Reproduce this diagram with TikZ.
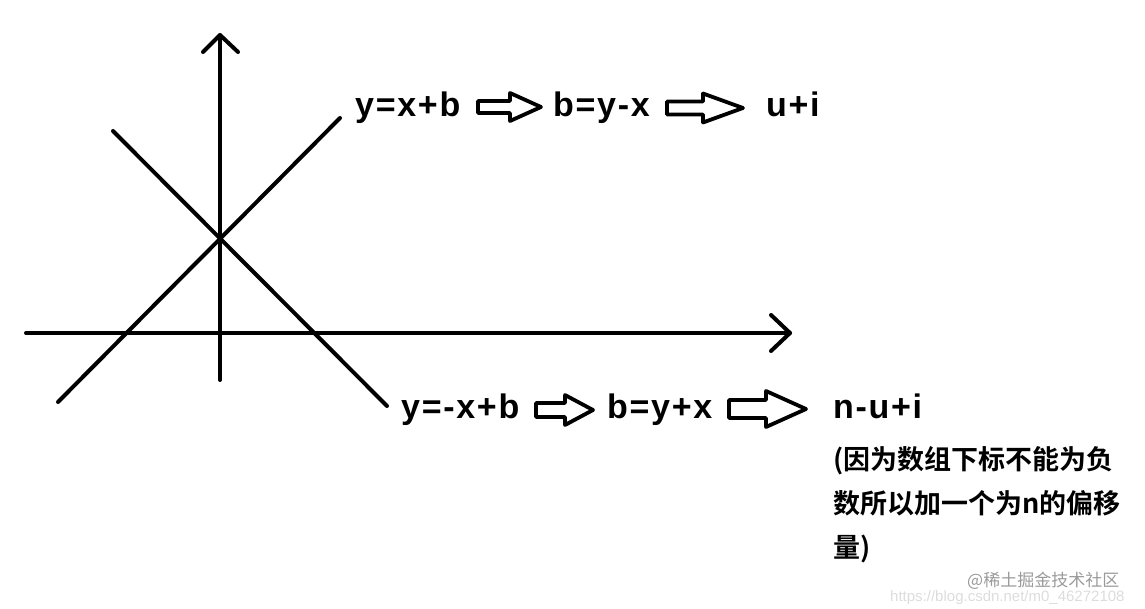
\documentclass[tikz,border=0pt]{standalone}
\usepackage{fontspec}
\usepackage{tikz}
\usepackage{xcolor}
\usetikzlibrary{arrows.meta, positioning}
\setmainfont{Liberation Sans}
\newfontfamily\cjk{Noto Sans CJK SC}[BoldFont={Noto Sans CJK SC Bold}]
\definecolor{MarkGray}{HTML}{9A9A9A}
\definecolor{UrlGray}{HTML}{DCDCDC}

% hollow block arrow: x1, x2, y, half shaft, half head, head length
\newcommand{\fatarrow}[6]{%
  \draw[blockarrow] (#1,#3-#4) -- (#2-#6,#3-#4) -- (#2-#6,#3-#5) -- (#2,#3)
    -- (#2-#6,#3+#5) -- (#2-#6,#3+#4) -- (#1,#3+#4) -- cycle;}

\begin{document}
\begin{tikzpicture}[x=1pt, y=-1pt,
    axis/.style={line width=4pt, line cap=round, line join=round},
    blockarrow/.style={line width=3.8pt, line join=round},
    formula/.style={anchor=base west, inner sep=0pt, font=\fontsize{34}{40}\selectfont\bfseries\addfontfeature{LetterSpace=5}},
    note/.style={anchor=north west, inner sep=0pt, align=left, font=\cjk\fontsize{27}{44}\selectfont\bfseries}]

        \useasboundingbox (0,0) rectangle (1145,609);

        % axes
        \coordinate (xl) at (26,333);
        \coordinate (xr) at (790,333);
        \coordinate (yb) at (220,380);
        \coordinate (yt) at (220,35);
        \draw[axis] (xl) -- (xr);
        \draw[axis] (yb) -- (yt);
        \draw[axis] (771,315) -- (xr) -- (771,351);
        \draw[axis] (203,52) -- (yt) -- (238,52);

        % the two lines
        \coordinate (pa) at (58,402);
        \coordinate (pb) at (340,118);
        \coordinate (qa) at (113,131);
        \coordinate (qb) at (387,406);
        \draw[axis] (pa) -- (pb);
        \draw[axis] (qa) -- (qb);

        % first row
        \node[formula] (eqA) at (355,117) {y=x+b};
        \node[formula] (solA) at (553,117) {b=y-x};
        \node[formula] (idxA) at (766,117) {u+i};
        \fatarrow{478}{541}{107}{6}{14}{31}
        \fatarrow{667}{743}{108}{6.5}{14.5}{40}

        % second row
        \node[formula] (eqB) at (401,418) {y=-x+b};
        \node[formula] (solB) at (607,418) {b=y+x};
        \node[formula] (idxB) at (833,418) {n-u+i};
        \fatarrow{536}{593}{410}{7}{15}{28}
        \fatarrow{729}{806}{409}{9}{18}{40}

        \node[note] (why) at (833,446) {(因为数组下标不能为负\\数所以加一个为n的偏移\\量)};

        % watermark
        \node[anchor=base west, inner sep=0pt, text=UrlGray, font=\fontsize{15}{18}\selectfont] (url) at (890,601) {https://blog.csdn.net/m0\_46272108};
        \node[anchor=base west, inner sep=0pt, text=MarkGray, font=\cjk\fontsize{17}{20}\selectfont] (mark) at (967,586) {@稀土掘金技术社区};

    \end{tikzpicture}
\end{document}
